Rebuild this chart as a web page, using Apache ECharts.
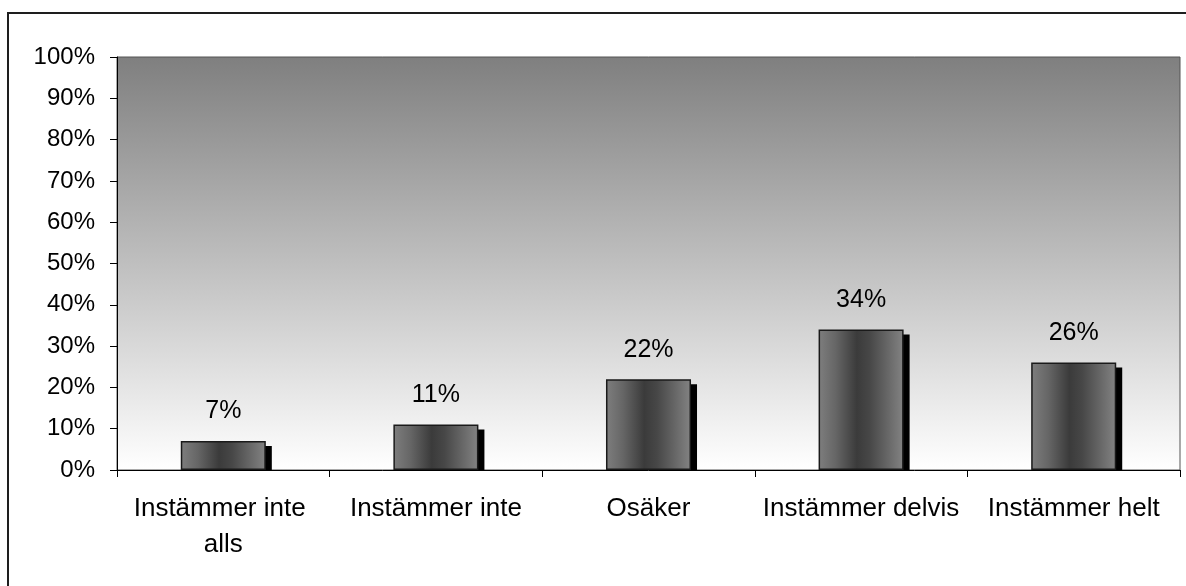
<!DOCTYPE html>
<html>
<head>
<meta charset="utf-8">
<script src="https://cdn.jsdelivr.net/npm/echarts@6/dist/echarts.min.js"></script>
<style>
  html, body { margin: 0; padding: 0; background: #ffffff; }
  #chart { width: 1186px; height: 586px; }
</style>
</head>
<body>
<div id="chart"></div>
<script>
// Survey answers, share of respondents (%)
const categories = ['Instämmer inte alls', 'Instämmer inte', 'Osäker', 'Instämmer delvis', 'Instämmer helt'];
const shares = [7, 11, 22, 34, 26];
const yTicks = [0, 10, 20, 30, 40, 50, 60, 70, 80, 90, 100];

const FONT = '"Liberation Sans", Arial, sans-serif';
const chart = echarts.init(document.getElementById('chart'), null, { renderer: 'canvas' });

// Cylinder-like horizontal shading for the columns
const barFill = new echarts.graphic.LinearGradient(0, 0, 1, 0, [
  { offset: 0, color: '#7e7e7e' },
  { offset: 0.2, color: '#666666' },
  { offset: 0.45, color: '#3b3b3b' },
  { offset: 0.6, color: '#474747' },
  { offset: 1, color: '#838383' }
]);

chart.setOption({
  animation: false,
  graphic: [{
    type: 'rect',
    shape: { x: 8, y: 13, width: 1200, height: 600 },
    style: { fill: 'none', stroke: '#1e1e1e', lineWidth: 2 },
    silent: true,
    z: 100
  }],
  grid: {
    left: 117, top: 57, right: 6, bottom: 116,
    show: true,
    borderColor: '#555555',
    borderWidth: 1,
    backgroundColor: new echarts.graphic.LinearGradient(0, 0, 0, 1, [
      { offset: 0, color: '#7f7f7f' },
      { offset: 1, color: '#ffffff' }
    ])
  },
  xAxis: {
    type: 'category',
    data: categories,
    axisLine: { lineStyle: { color: '#000000', width: 1 } },
    axisTick: { show: true, length: 7, lineStyle: { color: '#000000' } },
    axisLabel: {
      color: '#000000', fontFamily: FONT, fontSize: 26, lineHeight: 36,
      margin: 21, interval: 0, width: 212, overflow: 'break'
    },
    splitLine: { show: false }
  },
  yAxis: {
    type: 'value',
    min: 0, max: 100, interval: 10,
    axisLine: { show: true, lineStyle: { color: '#000000', width: 1 } },
    axisTick: { show: true, length: 7, lineStyle: { color: '#000000' } },
    axisLabel: {
      color: '#000000', fontFamily: FONT, fontSize: 24, margin: 22,
      formatter: v => (yTicks.indexOf(v) >= 0 ? v + '%' : '')
    },
    splitLine: { show: false }
  },
  series: [
    {
      // black drop shadow behind each column, ending at the baseline
      type: 'custom',
      z: 1,
      silent: true,
      data: shares.map((v, i) => [i, v]),
      renderItem: (params, api) => {
        const top = api.coord([api.value(0), api.value(1)]);
        const base = api.coord([api.value(0), 0]);
        const w = api.size([1, 0])[0] * 0.4;
        return {
          type: 'rect',
          shape: { x: top[0] - w / 2 + 6, y: top[1] + 5, width: w, height: base[1] - top[1] - 5 },
          style: { fill: '#000000' }
        };
      }
    },
    {
      type: 'bar',
      z: 2,
      data: shares,
      barWidth: '40%',
      itemStyle: { color: barFill, borderColor: '#1a1a1a', borderWidth: 1.5 },
      label: {
        show: true, position: 'top', distance: 17,
        color: '#000000', fontFamily: FONT, fontSize: 25,
        formatter: p => p.value + '%'
      }
    }
  ]
});
</script>
</body>
</html>
